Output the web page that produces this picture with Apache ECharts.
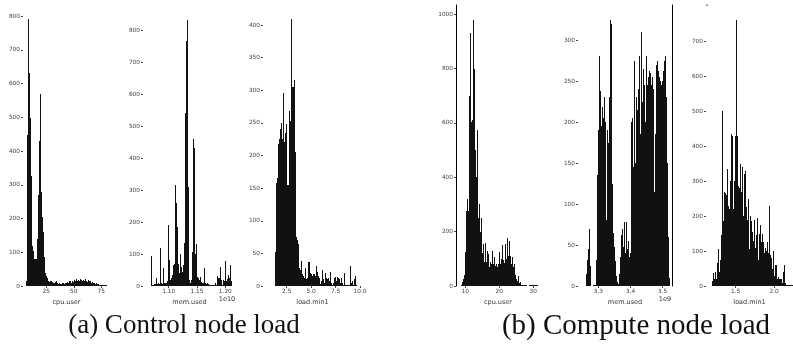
<!DOCTYPE html>
<html><head><meta charset="utf-8">
<script src="https://cdn.jsdelivr.net/npm/echarts@6/dist/echarts.min.js"></script>
<style>html,body{margin:0;padding:0;background:#fff}#c{width:793px;height:344px}</style>
</head><body><div id="c"></div>
<script>
// ---- data: histogram counts per bin ----
const ctlCpuCounts = [15,447,791,632,497,325,120,105,80,80,80,140,270,430,570,278,205,160,85,38,30,25,15,12,15,14,12,10,8,12,14,8,5,8,5,6,8,10,5,10,8,12,10,15,14,10,16,12,18,15,20,14,18,16,20,17,14,18,15,20,16,12,18,14,16,10,12,8,10,6,8,5,6,3,2,2,1,1,1,1,1];
const ctlCpuRange = [6.8, 80.5];
const ctlMemCounts = [95,2,2,5,5,25,5,8,5,120,8,5,55,10,8,10,15,190,82,20,25,35,65,70,315,258,185,70,40,100,60,45,65,135,540,765,830,308,20,10,20,105,460,430,100,130,28,25,20,28,12,10,8,55,10,5,8,5,3,3,2,2,2,1,10,2,30,25,25,60,18,3,20,15,78,15,22,35,25,65,15];
const ctlMemRange = [1.0687, 1.2118];
const ctlLoadCounts = [52,158,165,218,226,240,250,225,296,220,235,248,155,155,268,253,410,305,305,316,205,75,70,65,28,25,38,18,15,12,28,10,12,37,37,20,18,15,18,18,15,30,22,10,15,12,3,8,25,10,5,20,12,10,12,8,22,5,2,5,12,14,8,14,12,10,5,12,5,2,20,1,1,1,1,1,30,5,8,2,10,15,1];
const ctlLoadRange = [1.30, 9.70];
const cmpCpuCounts = [5,15,25,40,125,275,320,275,700,930,605,610,980,800,500,400,575,250,300,200,250,120,155,90,160,90,80,130,118,70,90,80,130,80,105,75,80,70,80,125,80,100,150,95,85,155,100,178,110,165,110,80,105,70,80,40,25,20,35,10,15,2,1,1,1,1,1,0,0,1,1,1,1,1,1,1,1,1];
const cmpCpuRange = [8.65, 31.4];
const cmpMemCounts = [15,32,45,70,25,0,0,1,1,1,32,135,190,280,238,195,218,205,230,200,80,190,175,230,325,320,125,65,48,30,12,5,2,15,35,62,70,48,78,40,78,45,55,35,40,200,205,145,275,150,230,215,240,280,185,310,225,265,245,200,280,245,255,262,260,245,255,240,115,185,270,275,262,255,250,245,250,262,275,280,230,150,60,10];
const cmpMemRange = [3.2609, 3.5218];
const cmpLoadCounts = [15,38,20,40,20,65,105,40,75,145,500,185,270,265,260,335,230,220,300,435,430,220,300,430,760,430,285,280,350,270,340,200,320,240,330,225,190,250,105,200,185,155,130,190,110,145,195,75,150,175,125,150,125,95,110,100,125,95,230,90,80,50,100,30,60,60,20,25,20,20,20,10,40,60,10,3,1,1,1,1,1,1];
const cmpLoadRange = [1.187, 2.25];

// ---- tick labels ----
const ctlCpuTicksX = [25, 50, 75];
const ctlCpuTicksY = [0,100,200,300,400,500,600,700,800];
const ctlMemTicksX = [1.10, 1.15, 1.20];
const ctlMemTicksY = [0,100,200,300,400,500,600,700,800];
const ctlLoadTicksX = [2.5, 5.0, 7.5, 10.0];
const ctlLoadTicksY = [0,50,100,150,200,250,300,350,400];
const cmpCpuTicksX = [10, 20, 30];
const cmpCpuTicksY = [0,200,400,600,800,1000];
const cmpMemTicksX = [3.3, 3.4, 3.5];
const cmpMemTicksY = [0,50,100,150,200,250,300];
const cmpLoadTicksX = [1.5, 2.0];
const cmpLoadTicksY = [0,100,200,300,400,500,600,700];
const axisNames = ['cpu.user','mem.used','load.min1','cpu.user','mem.used','load.min1'];
const captions = ['(a) Control node load', '(b) Compute node load'];

// ---- layout ----
const layout = [
  {left:23,  width:87, xmin:3.82,   xmax:82.91,  ymax:832.6, dec:0},
  {left:143, width:93, xmin:1.0546, xmax:1.2189, ymax:878.1, dec:2},
  {left:263, width:99, xmin:0.0742, xmax:10.205, ymax:430.7, dec:1},
  {left:456, width:84, xmin:7.265,  xmax:31.97,  ymax:1034.3, dec:0},
  {left:578, width:94, xmin:3.2370, xmax:3.5289, ymax:342.7, dec:1},
  {left:706, width:87, xmin:1.1123, xmax:2.248,  ymax:802.9, dec:1}
];
const counts = [ctlCpuCounts, ctlMemCounts, ctlLoadCounts, cmpCpuCounts, cmpMemCounts, cmpLoadCounts];
const ranges = [ctlCpuRange, ctlMemRange, ctlLoadRange, cmpCpuRange, cmpMemRange, cmpLoadRange];
const ticksX = [ctlCpuTicksX, ctlMemTicksX, ctlLoadTicksX, cmpCpuTicksX, cmpMemTicksX, cmpLoadTicksX];
const ticksY = [ctlCpuTicksY, ctlMemTicksY, ctlLoadTicksY, cmpCpuTicksY, cmpMemTicksY, cmpLoadTicksY];

const TOP = 5, H = 281;
const labelStyle = {fontFamily:'DejaVu Sans', fontSize:5.8, color:'#444'};
const grid = [], xAxis = [], yAxis = [], series = [];
layout.forEach((L, i) => {
  grid.push({left:L.left, top:TOP, width:L.width, height:H});
  xAxis.push({type:'value', gridIndex:i, min:L.xmin, max:L.xmax,
    name:axisNames[i], nameLocation:'middle', nameGap:8,
    nameTextStyle:{fontFamily:'DejaVu Sans', fontSize:6.5, color:'#333'},
    axisLine:{show:false}, splitLine:{show:false},
    axisTick:{show:true, length:2, customValues:ticksX[i], lineStyle:{color:'#444', width:1}},
    axisLabel:Object.assign({margin:2, customValues:ticksX[i], formatter:v => v.toFixed(L.dec)}, labelStyle)
  });
  yAxis.push({type:'value', gridIndex:i, min:0, max:L.ymax,
    axisLine:{show:i===3, lineStyle:{color:'#000', width:1}}, splitLine:{show:false},
    axisTick:{show:true, length:2, customValues:ticksY[i], lineStyle:{color:'#444', width:1}},
    axisLabel:Object.assign({margin:3, customValues:ticksY[i], formatter:v => String(Math.round(v))}, labelStyle)
  });
  const c = counts[i], r = ranges[i], w = (r[1]-r[0])/c.length;
  series.push({
    type:'custom', xAxisIndex:i, yAxisIndex:i, clip:false,
    data:c.map((v, k) => [r[0]+k*w, r[0]+(k+1)*w, v]),
    encode:{x:[0,1], y:2},
    renderItem:(params, api) => {
      const p0 = api.coord([api.value(0), api.value(2)]);
      const p1 = api.coord([api.value(1), 0]);
      const x0 = Math.round(p0[0]);
      const x1 = Math.max(x0 + 1, Math.round(p1[0]));
      const yb = Math.round(p1[1]);
      const yt = Math.min(yb - (api.value(2) > 0 ? 1 : 0), Math.round(p0[1]));
      return {type:'rect', shape:{x:x0, y:yt, width:x1-x0, height:yb-yt},
        style:{fill:'#111'}};
    }
  });
});
// right spine of compute mem.used panel
yAxis.push({type:'value', gridIndex:4, position:'right', min:0, max:layout[4].ymax,
  axisLine:{show:true, lineStyle:{color:'#000', width:1}}, axisTick:{show:false},
  axisLabel:{show:false}, splitLine:{show:false}});

const chart = echarts.init(document.getElementById('c'), null, {renderer:'canvas'});
chart.setOption({
  animation:false, backgroundColor:'#fff',
  grid, xAxis, yAxis, series,
  graphic:[
    {type:'text', x:227, y:299.5, style:{text:'1e10', fontFamily:'DejaVu Sans', fontSize:6.5, fill:'#333', align:'center', verticalAlign:'middle'}},
    {type:'text', x:665, y:299.5, style:{text:'1e9', fontFamily:'DejaVu Sans', fontSize:6.5, fill:'#333', align:'center', verticalAlign:'middle'}},
    {type:'rect', shape:{x:706.5, y:4.5, width:1, height:1.5}, style:{fill:'#000'}},
    {type:'text', x:184, y:326, style:{text:captions[0], fontFamily:'Liberation Serif', fontSize:27, fill:'#111', align:'center', verticalAlign:'middle'}},
    {type:'text', x:636, y:326, style:{text:captions[1], fontFamily:'Liberation Serif', fontSize:29, fill:'#111', align:'center', verticalAlign:'middle'}}
  ]
});
</script></body></html>
